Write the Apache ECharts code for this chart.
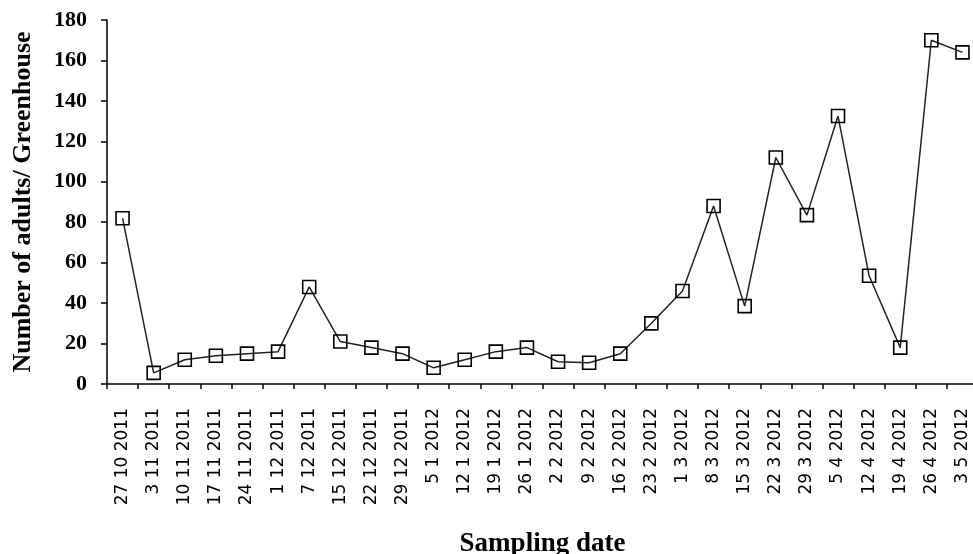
<!DOCTYPE html>
<html>
<head>
<meta charset="utf-8">
<script src="https://cdn.jsdelivr.net/npm/echarts@6/dist/echarts.min.js"></script>
<style>
html,body{margin:0;padding:0;background:#fff;}
#chart{width:973px;height:554px;}
</style>
</head>
<body>
<div id="chart"></div>
<script>
var categories = ["27 10 2011","3 11 2011","10 11 2011","17 11 2011","24 11 2011","1 12 2011","7 12 2011","15 12 2011","22 12 2011","29 12 2011","5 1 2012","12 1 2012","19 1 2012","26 1 2012","2 2 2012","9 2 2012","16 2 2012","23 2 2012","1 3 2012","8 3 2012","15 3 2012","22 3 2012","29 3 2012","5 4 2012","12 4 2012","19 4 2012","26 4 2012","3 5 2012"];
var adults = [82, 5.5, 12, 14, 15, 16, 48, 21, 18, 15, 8, 12, 16, 18, 11, 10.5, 15, 30, 46, 88, 38.5, 112, 83.5, 132.5, 53.5, 18, 170, 164];
var yTicks = {min: 0, max: 180, interval: 20};

var chart = echarts.init(document.getElementById('chart'));
chart.setOption({
  animation: false,
  backgroundColor: '#ffffff',
  grid: {left: 107, top: 20, right: -5, bottom: 170, containLabel: false, outerBoundsMode: 'none'},
  xAxis: {
    type: 'category',
    data: categories,
    boundaryGap: true,
    name: 'Sampling date',
    nameLocation: 'middle',
    nameGap: 147,
    nameTextStyle: {fontFamily: 'Liberation Serif', fontWeight: 'bold', fontSize: 27, color: '#000'},
    axisLine: {lineStyle: {color: '#000', width: 1.5}},
    axisTick: {show: true, alignWithLabel: false, length: 5, lineStyle: {color: '#000', width: 1.5}},
    axisLabel: {rotate: 90, interval: 0, margin: 24, fontFamily: 'DejaVu Sans', fontSize: 17, color: '#000'},
    splitLine: {show: false}
  },
  yAxis: {
    type: 'value',
    min: yTicks.min,
    max: yTicks.max,
    interval: yTicks.interval,
    name: 'Number of adults/ Greenhouse',
    nameLocation: 'middle',
    nameGap: 71,
    nameTextStyle: {fontFamily: 'Liberation Serif', fontWeight: 'bold', fontSize: 26, color: '#000'},
    axisLine: {show: true, lineStyle: {color: '#000', width: 1.5}},
    axisTick: {show: true, length: 6, lineStyle: {color: '#000', width: 1.5}},
    axisLabel: {margin: 20, fontFamily: 'Liberation Serif', fontWeight: 'bold', fontSize: 22, color: '#000'},
    splitLine: {show: false}
  },
  series: [{
    type: 'line',
    data: adults,
    symbol: 'rect',
    symbolSize: 13,
    showAllSymbol: true,
    lineStyle: {color: '#222', width: 1.5},
    itemStyle: {color: 'rgba(255,255,255,0)', borderColor: '#000', borderWidth: 1.6}
  }]
});
</script>
</body>
</html>
